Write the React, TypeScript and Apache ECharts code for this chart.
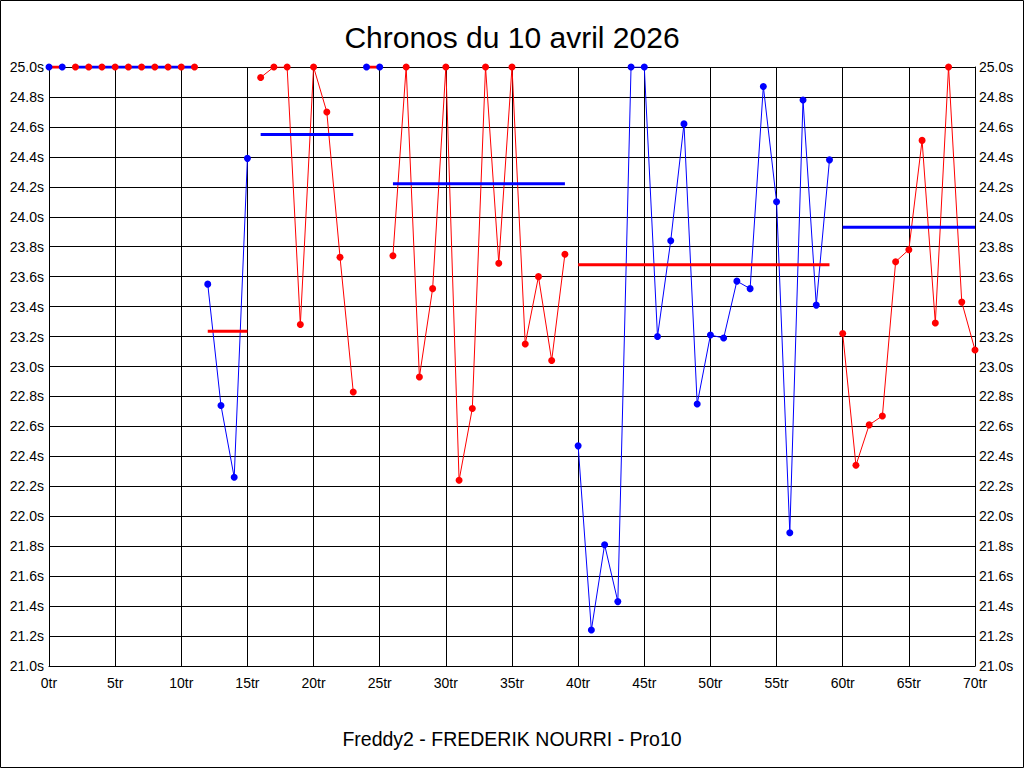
import React, { useEffect, useRef } from "react";
import * as echarts from "echarts";

// Lap times (seconds), index = lap number ("tr"). Values above 25.0 are shown capped at 25.0.
const lapTimes: number[] = [
  25.0, 25.0, 25.0, 25.0, 25.0, 25.0, 25.0, 25.0, 25.0, 25.0, // 0-9
  25.0, 25.0, 23.55, 22.74, 22.26, 24.39, 24.93, 25.0, 25.0, 23.28, // 10-19
  25.0, 24.7, 23.73, 22.83, 25.0, 25.0, 23.74, 25.0, 22.93, 23.52, // 20-29
  25.0, 22.24, 22.72, 25.0, 23.69, 25.0, 23.15, 23.6, 23.04, 23.75, // 30-39
  22.47, 21.24, 21.81, 21.43, 25.0, 25.0, 23.2, 23.84, 24.62, 22.75, // 40-49
  23.21, 23.19, 23.57, 23.52, 24.87, 24.1, 21.89, 24.78, 23.41, 24.38, // 50-59
  23.22, 22.34, 22.61, 22.67, 23.7, 23.78, 24.51, 23.29, 25.0, 23.43, // 60-69
  23.11, // 70
];

// Segments (stints)
const segStart: number[] = [0, 2, 12, 16, 24, 26, 40, 60];
const segEnd: number[] = [1, 11, 15, 23, 25, 39, 59, 70];
const segIsBlue: boolean[] = [true, false, true, false, true, false, true, false];
const segMean: number[] = [25.0, 25.0, 23.235, 24.55, 25.0, 24.22, 23.68, 23.93];

// Axis
const xMin = 0;
const xMax = 70;
const xStep = 5;
const yMin = 21.0;
const yMax = 25.0;
const yStep = 0.2;

const titleText = "Chronos du 10 avril 2026";
const subtitleText = "Freddy2 - FREDERIK NOURRI - Pro10";

const BLUE = "#0000FF";
const RED = "#FF0000";
const FONT = "'Liberation Sans', Arial, sans-serif";

export default function App() {
  const ref = useRef<HTMLDivElement>(null);

  useEffect(() => {
    document.body.style.margin = "0";
    if (!ref.current) return;
    const chart = echarts.init(ref.current, undefined, { renderer: "svg" });

    const lineSeries: any[] = [];
    const meanSeries: any[] = [];
    const dotSeries: any[] = [];

    segStart.forEach((s, i) => {
      const e = segEnd[i];
      const col = segIsBlue[i] ? BLUE : RED;
      const other = segIsBlue[i] ? RED : BLUE;
      const pts: number[][] = [];
      for (let lap = s; lap <= e; lap++) pts.push([lap, lapTimes[lap]]);
      lineSeries.push({
        type: "line",
        data: pts,
        showSymbol: false,
        symbol: "none",
        lineStyle: { color: col, width: 1 },
        z: 2,
        silent: true,
      });
      meanSeries.push({
        type: "line",
        data: [
          [s, segMean[i]],
          [e, segMean[i]],
        ],
        symbol: "none",
        lineStyle: { color: other, width: 3 },
        z: 3,
        silent: true,
      });
      dotSeries.push({
        type: "scatter",
        data: pts,
        symbol: "circle",
        symbolSize: 7,
        itemStyle: { color: col, opacity: 1 },
        z: 4,
        silent: true,
      });
    });

    const yLabel = {
      color: "#000",
      fontSize: 14,
      fontFamily: FONT,
      formatter: (v: number) => v.toFixed(1) + "s",
    };

    chart.setOption({
      animation: false,
      backgroundColor: "#fff",
      title: [
        {
          text: titleText,
          left: "center",
          top: 17,
          textStyle: { color: "#000", fontSize: 30, fontWeight: "normal", fontFamily: FONT },
        },
        {
          text: subtitleText,
          left: "center",
          top: 724,
          textStyle: { color: "#000", fontSize: 19.5, fontWeight: "normal", fontFamily: FONT },
        },
      ],
      grid: { left: 49, right: 49, top: 67, bottom: 102, containLabel: false },
      xAxis: {
        type: "value",
        min: xMin,
        max: xMax,
        interval: xStep,
        axisLine: { show: true, lineStyle: { color: "#000", width: 1 } },
        axisTick: { show: false },
        splitLine: { show: true, lineStyle: { color: "#000", width: 1 } },
        axisLabel: {
          color: "#000",
          fontSize: 14,
          fontFamily: FONT,
          margin: 10,
          formatter: (v: number) => v + "tr",
        },
      },
      yAxis: [
        {
          type: "value",
          min: yMin,
          max: yMax,
          interval: yStep,
          position: "left",
          axisLine: { show: true, lineStyle: { color: "#000", width: 1 } },
          axisTick: { show: false },
          splitLine: { show: true, lineStyle: { color: "#000", width: 1 } },
          axisLabel: { ...yLabel, margin: 5 },
        },
        {
          type: "value",
          min: yMin,
          max: yMax,
          interval: yStep,
          position: "right",
          axisLine: { show: true, lineStyle: { color: "#000", width: 1 } },
          axisTick: { show: false },
          splitLine: { show: false },
          axisLabel: { ...yLabel, margin: 4 },
        },
      ],
      graphic: [
        {
          type: "rect",
          shape: { x: 0.5, y: 0.5, width: 1023, height: 767 },
          style: { fill: "none", stroke: "#000", lineWidth: 1 },
          z: 100,
          silent: true,
        },
      ],
      series: [...lineSeries, ...meanSeries, ...dotSeries],
    });

    return () => chart.dispose();
  }, []);

  return (
    <div
      ref={ref}
      style={{ position: "absolute", left: 0, top: 0, width: 1024, height: 768 }}
    />
  );
}
